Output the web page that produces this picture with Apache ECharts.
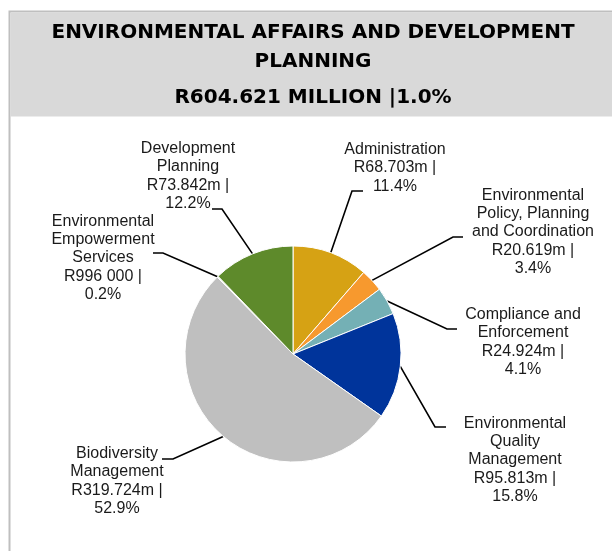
<!DOCTYPE html>
<html>
<head>
<meta charset="utf-8">
<script src="https://cdn.jsdelivr.net/npm/echarts@6/dist/echarts.min.js"></script>
<style>
html, body { margin: 0; padding: 0; background: #fff; }
#budgetPie { width: 612px; height: 551px; }
</style>
</head>
<body>
<div id="budgetPie"></div>
<script>
var programmes = [
    'Administration',
    'Environmental\nPolicy, Planning\nand Coordination',
    'Compliance and\nEnforcement',
    'Environmental\nQuality\nManagement',
    'Biodiversity\nManagement',
    'Environmental\nEmpowerment\nServices',
    'Development\nPlanning'
];
var amounts = [68.703, 20.619, 24.924, 95.813, 319.724, 0.996, 73.842];
var amountLabels = ['R68.703m', 'R20.619m', 'R24.924m', 'R95.813m', 'R319.724m', 'R996 000', 'R73.842m'];
var sliceColors = ['#D6A214', '#F7992E', '#74B0B5', '#00349B', '#BFBFBF', '#F2F2F2', '#5E8A2B'];

var titleLines = ['ENVIRONMENTAL AFFAIRS AND DEVELOPMENT', 'PLANNING', 'R604.621 MILLION |1.0%'];

// where each label block is centred, and the bend / end of its leader line
var labelPos = [[395, 168], [533, 232], [523, 342], [515, 460], [117, 481], [103, 258], [188, 176]];
var lineBends = [[352, 191], [453, 237], [447, 329], [435, 427], [173, 459], [163, 253], [222, 209]];
var lineEnds = [[363, 191], [463, 237], [457, 329], [446, 427], [162, 459], [153, 253], [212, 209]];

var pieChart = echarts.init(document.getElementById('budgetPie'), null, {renderer: 'canvas'});

var pieData = programmes.map(function (name, i) {
    return {name: name, value: amounts[i], itemStyle: {color: sliceColors[i]}};
});

var titleFont = 'bold 20px "DejaVu Sans", sans-serif';

var option = {
    animation: false,
    backgroundColor: '#fff',
    graphic: [
        {type: 'rect', z: -10, shape: {x: 9.5, y: 11.5, width: 640, height: 600},
            style: {fill: '#fff', stroke: '#BFBFBF', lineWidth: 2}},
        {type: 'rect', z: -9, shape: {x: 10.5, y: 12.5, width: 610, height: 104},
            style: {fill: '#D9D9D9'}},
        {type: 'text', x: 313, y: 33, style: {text: titleLines[0], font: titleFont, fill: '#000',
            textAlign: 'center', textVerticalAlign: 'middle'}},
        {type: 'text', x: 313, y: 62, style: {text: titleLines[1], font: titleFont, fill: '#000',
            textAlign: 'center', textVerticalAlign: 'middle'}},
        {type: 'text', x: 313, y: 98, style: {text: titleLines[2], font: titleFont, fill: '#000',
            textAlign: 'center', textVerticalAlign: 'middle'}}
    ],
    series: [{
        type: 'pie',
        center: [293, 354],
        radius: 108,
        startAngle: 90,
        clockwise: true,
        avoidLabelOverlap: false,
        itemStyle: {borderColor: '#fff', borderWidth: 1},
        label: {
            show: true,
            position: 'outside',
            fontFamily: 'Liberation Sans',
            fontSize: 16,
            lineHeight: 18.3,
            color: '#1a1a1a',
            formatter: function (p) {
                return p.name + '\n' + amountLabels[p.dataIndex] + ' |\n' + p.percent.toFixed(1) + '%';
            }
        },
        labelLine: {show: true, length: 10, length2: 10, lineStyle: {color: '#000', width: 1.6}},
        labelLayout: function (params) {
            var i = params.dataIndex;
            var start = params.labelLinePoints ? params.labelLinePoints[0] : lineBends[i];
            return {
                x: labelPos[i][0],
                y: labelPos[i][1],
                align: 'center',
                verticalAlign: 'middle',
                labelLinePoints: [start, lineBends[i], lineEnds[i]]
            };
        },
        emphasis: {disabled: true},
        data: pieData
    }]
};

pieChart.setOption(option);
</script>
</body>
</html>
